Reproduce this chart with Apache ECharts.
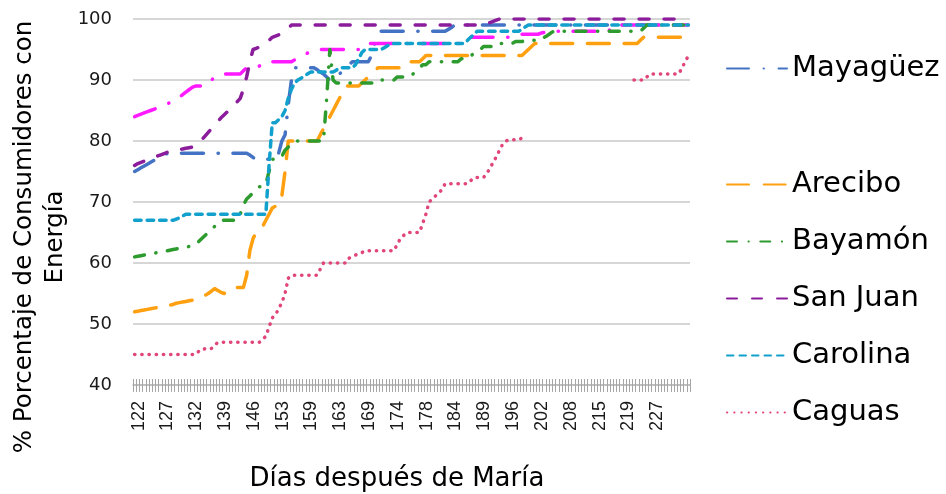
<!DOCTYPE html>
<html>
<head>
<meta charset="utf-8">
<script src="https://cdn.jsdelivr.net/npm/echarts@6/dist/echarts.min.js"></script>
<style>
html, body { margin: 0; padding: 0; background: #fff; }
#main { width: 946px; height: 494px; }
</style>
</head>
<body>
<div id="main"></div>
<script>
// dias visibles en el eje X (una etiqueta cada 9 mediciones)
var tickDays = [122, 127, 132, 139, 146, 153, 159, 163, 169, 174, 178, 184, 189, 196, 202, 208, 215, 219, 227];
var pointCount = 174;
var labelStep = 9;

var mayaguez = [
    75, 75.3, 75.6, 75.9, 76.2, 76.5, 76.8, 77.1, 77.4, 77.7,
    77.9, 78, 78, 78, 78, 78, 78, 78, 78, 78,
    78, 78, 78, 78, 78, 78, 78, 78, 78, 78,
    78, 78, 78, 78, 78, 78, 77.7, 77.3, 77, 77,
    77, 77, 77, 77, 77, 78, 80, 81, 86, 90,
    92, 92, 92, 92, 92, 92, 92, 91.7, 91.3, 91,
    90.5, 90, 90, 90.5, 91, 91.5, 92, 92.5, 93, 93,
    93, 93, 93, 93, 94, 96, 97.5, 98, 98, 98,
    98, 98, 98, 98, 98, 98, 98, 98, 98, 98,
    98, 98, 98, 98, 98, 98, 98, 98, 98.3, 98.6,
    99, 99, 99, 99, 99, 99, 99, 99, 99, 99,
    99, 99, 99, 99, 99, 99, 99, 99, 99, 99,
    99, 99, 99, 99, 99, 99, 99, 99, 99, 99,
    99, 99, 99, 99, 99, 99, 99, 99, 99, 99,
    99, 99, 99, 99, 99, 99, 99, 99, 99, 99,
    99, 99, 99, 99, 99, 99, 99, 99, 99, 99,
    99, 99, 99, 99, 99, 99, 99, 99, 99, 99,
    99, 99, 99, 99
];

// serie magenta, sin nombre visible en la leyenda
var sinNombre = [
    84, 84.2, 84.4, 84.6, 84.8, 85, 85.2, 85.4, 85.6, 85.8,
    86, 86.3, 86.6, 86.9, 87.2, 87.6, 88, 88.4, 88.8, 89,
    89, 89, 89, 89.5, 90, 90.4, 90.8, 91, 91, 91,
    91, 91, 91, 91, 91.5, 92, 92, 92, 92, 92.3,
    92.6, 93, 93, 93, 93, 93, 93, 93, 93, 93,
    93.3, 93.6, 94, 94.2, 94.4, 94.6, 94.8, 95, 95, 95,
    95, 95, 95, 95, 95, 95, 95, 95, 95, 95,
    95, 95.5, 96, 96, 96, 96, 96, 96, 96, 96,
    96, 96, 96, 96, 96, 96, 96, 96, 96, 96,
    96, 96, 96, 96, 96, 96, 96, 96, 96, 96,
    96, 96, 96, 96, 96.5, 97, 97, 97, 97, 97,
    97, 97, 97, 97, 97, 97, 97, 97, 97, 97.2,
    97.4, 97.5, 97.5, 97.5, 97.5, 97.5, 97.5, 97.7, 97.8, 97.8,
    98, 98, 98, 98, 98, 98, 98, 98, 98, 98,
    98, 98, 98, 98, 98, 98, 98, 98, 98, 98.5,
    99, 99, 99, 99, 99, 99, 99, 99, 99, 99,
    99, 99, 99, 99, 99, 99, 99, 99, 99, 99,
    99, 99, 99, 99
];

var arecibo = [
    52, 52.1, 52.2, 52.3, 52.4, 52.5, 52.6, 52.7, 52.8, 52.9,
    53, 53.1, 53.2, 53.4, 53.5, 53.6, 53.7, 53.8, 53.9, 54,
    54.2, 54.4, 54.7, 55, 55.4, 55.8, 55.5, 55.2, 55, 55.3,
    55.6, 56, 56, 56, 56, 58, 62, 64, 65, 65.5,
    66, 67, 68, 69, 69.3, 69.5, 71, 75, 80, 80,
    80, 80, 80, 80, 80, 80, 80, 80, 81, 82,
    83, 84, 85, 86, 87, 88, 89, 89, 89, 89,
    89, 89.5, 90, 90.5, 91, 91.5, 92, 92, 92, 92,
    92, 92, 92, 92, 92, 92.5, 93, 93, 93, 93,
    93.5, 94, 94, 94, 94, 94, 94, 94, 94, 94,
    94, 94, 94, 94, 94, 94, 94, 94, 94, 94,
    94, 94, 94, 94, 94, 94, 94, 94, 94, 94,
    94, 94, 94.5, 95, 95.5, 96, 96, 96, 96, 96,
    96, 96, 96, 96, 96, 96, 96, 96, 96, 96,
    96, 96, 96, 96, 96, 96, 96, 96, 96, 96,
    96, 96, 96, 96, 96, 96, 96, 96, 96.5, 97,
    97, 97, 97, 97, 97, 97, 97, 97, 97, 97,
    97, 97, 97, 97
];

var bayamon = [
    61, 61.1, 61.2, 61.3, 61.4, 61.5, 61.6, 61.7, 61.8, 61.9,
    62, 62.1, 62.2, 62.3, 62.4, 62.5, 62.6, 62.7, 62.8, 63,
    63.5, 64, 64.5, 65, 65.5, 66, 66.5, 67, 67, 67,
    67, 67, 67, 68, 69.5, 70.5, 71, 71.5, 72, 72.5,
    72.5, 73, 75, 77, 77, 77, 77.5, 78.5, 79, 79.5,
    80, 80, 80, 80, 80, 80, 80, 80, 80, 80,
    87, 95, 90, 89.5, 89.5, 89.5, 89.5, 89.5, 89.5, 89.5,
    89.5, 89.5, 89.5, 89.5, 89.5, 89.5, 90, 90, 90, 90,
    90, 90, 90.5, 90.5, 90.5, 90.5, 90.5, 91, 91.5, 92,
    92.5, 92.5, 93, 93, 93, 93, 93, 93, 93, 93,
    93, 93, 93.5, 93.5, 93.5, 94, 94.3, 94.6, 95, 95.5,
    95.5, 95.5, 95.5, 96, 96, 96, 96, 96, 96, 96.3,
    96.3, 96.3, 96.5, 96.5, 96.5, 96.5, 96.5, 97, 97, 97.3,
    97.7, 98, 98, 98, 98, 98, 98, 98, 98, 98,
    98, 98, 98, 98, 98, 98, 98, 98, 98, 98,
    98, 98, 98, 98, 98, 98, 98, 98, 98, 98.5,
    99, 99, 99, 99, 99, 99, 99, 99, 99, 99,
    99, 99, 99, 99
];

var sanJuan = [
    76, 76.3, 76.5, 76.7, 76.9, 77.1, 77.3, 77.5, 77.7, 77.9,
    78.1, 78.3, 78.4, 78.5, 78.6, 78.7, 78.8, 78.9, 79, 79.3,
    79.7, 80.2, 80.8, 81.4, 82, 82.6, 83.2, 83.8, 84.3, 84.8,
    85.3, 85.8, 86.4, 87, 88.5, 90.5, 93, 95, 95.2, 95.4,
    95.6, 96, 96.5, 97, 97.2, 97.4, 97.6, 98, 98.5, 99,
    99, 99, 99, 99, 99, 99, 99, 99, 99, 99,
    99, 99, 99, 99, 99, 99, 99, 99, 99, 99,
    99, 99, 99, 99, 99, 99, 99, 99, 99, 99,
    99, 99, 99, 99, 99, 99, 99, 99, 99, 99,
    99, 99, 99, 99, 99, 99, 99, 99, 99, 99,
    99, 99, 99, 99, 99, 99, 99, 99, 99, 99,
    99.2, 99.4, 99.6, 99.8, 100, 100, 100, 100, 100, 100,
    100, 100, 100, 100, 100, 100, 100, 100, 100, 100,
    100, 100, 100, 100, 100, 100, 100, 100, 100, 100,
    100, 100, 100, 100, 100, 100, 100, 100, 100, 100,
    100, 100, 100, 100, 100, 100, 100, 100, 100, 100,
    100, 100, 100, 100, 100, 100, 100, 100, 100, 100,
    100, 100, 100, 100
];

var carolina = [
    67, 67, 67, 67, 67, 67, 67, 67, 67, 67,
    67, 67, 67, 67.2, 67.4, 67.7, 68, 68, 68, 68,
    68, 68, 68, 68, 68, 68, 68, 68, 68, 68,
    68, 68, 68, 68, 68, 68, 68, 68, 68, 68,
    68, 68, 76, 83, 83, 83.5, 84, 85, 87, 88.5,
    89.5, 90, 90.3, 90.6, 91, 91.3, 91.3, 91.3, 91.3, 91.3,
    91.3, 91.3, 91.3, 91.6, 92, 92, 92, 92, 92, 92.5,
    93.5, 94.5, 95, 95, 95, 95, 95, 95, 95.3, 95.6,
    95.9, 96, 96, 96, 96, 96, 96, 96, 96, 96,
    96, 96, 96, 96, 96, 96, 96, 96, 96, 96,
    96, 96, 96, 96, 96.5, 97, 97.5, 98, 98, 98,
    98, 98, 98, 98, 98, 98, 98, 98, 98, 98,
    98, 98.3, 98.7, 99, 99, 99, 99, 99, 99, 99,
    99, 99, 99, 99, 99, 99, 99, 99, 99, 99,
    99, 99, 99, 99, 99, 99, 99, 99, 99, 99,
    99, 99, 99, 99, 99, 99, 99, 99, 99, 99,
    99, 99, 99, 99, 99, 99, 99, 99, 99, 99,
    99, 99, 99, 99
];

var caguas = [
    45, 45, 45, 45, 45, 45, 45, 45, 45, 45,
    45, 45, 45, 45, 45, 45, 45, 45, 45, 45,
    45.5, 45.5, 46, 46, 46, 46.5, 47, 47, 47, 47,
    47, 47, 47, 47, 47, 47, 47, 47, 47, 47,
    47.5, 48, 49.5, 51, 51.5, 52.5, 53.5, 55, 57.5, 58,
    58, 58, 58, 58, 58, 58, 58, 58, 59, 60,
    60, 60, 60, 60, 60, 60, 60, 60.8, 61, 61.3,
    61.5, 61.7, 62, 62, 62, 62, 62, 62, 62, 62,
    62, 62, 63, 64, 64.5, 65, 65, 65, 65, 65,
    66.5, 68, 70, 70.5, 71, 71.5, 72, 73, 73, 73,
    73, 73, 73, 73, 73, 73.5, 74, 74, 74, 74,
    74.7, 75.5, 76.5, 77.4, 78.5, 79.5, 80, 80.2, 80.2, 80.2,
    80.2, 80.5, null, null, null, null, null, null, null, null,
    null, null, null, null, null, null, null, null, null, null,
    null, null, null, null, null, null, null, null, null, null,
    null, null, null, null, null, null, 90, 90, 90, 90,
    90.5, 91, 91, 91, 91, 91, 91, 91, 91, 91,
    91, 92, 93, 94
];

var legendTop = ['Mayagüez'];
var legendRest = ['Arecibo', 'Bayamón', 'San Juan', 'Carolina', 'Caguas'];

var categories = [];
for (var i = 0; i < pointCount; i++) {
    categories.push(String(i));
}

var font = 'DejaVu Sans';

function lineSeries(name, data, color, dash) {
    return {
        name: name,
        type: 'line',
        data: data,
        symbol: 'none',
        connectNulls: false,
        animation: false,
        lineStyle: {
            color: color,
            width: 3.5,
            type: dash,
            cap: 'round',
            join: 'round'
        },
        itemStyle: { color: color }
    };
}

function legendBlock(names, top) {
    return {
        data: names,
        orient: 'vertical',
        left: 726,
        top: top,
        padding: 0,
        itemWidth: 60,
        itemHeight: 14,
        itemGap: 28,
        itemStyle: { opacity: 0 },
        textStyle: { fontFamily: font, fontSize: 29, color: '#000' }
    };
}

var myChart = echarts.init(document.getElementById('main'));

var option = {
    backgroundColor: '#ffffff',
    animation: false,
    grid: {
        left: 133,
        right: 256,
        top: 19,
        bottom: 109
    },
    legend: [
        legendBlock(legendTop, 54),
        legendBlock(legendRest, 170)
    ],
    xAxis: [
        {
            type: 'category',
            data: categories,
            boundaryGap: true,
            axisLine: { show: true, lineStyle: { color: '#b8b8b8', width: 1.5 } },
            axisTick: {
                show: true,
                interval: 0,
                length: 7,
                lineStyle: { color: '#a6a6a6', width: 1 }
            },
            axisLabel: {
                interval: labelStep - 1,
                rotate: 90,
                margin: 16,
                fontFamily: 'Liberation Sans',
                fontSize: 18,
                color: '#1a1a1a',
                formatter: function (value, idx) {
                    var k = idx / labelStep;
                    return (idx % labelStep === 0 && k < tickDays.length) ? '{d|' + tickDays[k] + '}' : '';
                },
                rich: {
                    d: {
                        fontFamily: 'Liberation Sans',
                        fontSize: 18,
                        color: '#1a1a1a',
                        padding: [8, 0, 0, 0]
                    }
                }
            },
            splitLine: { show: false }
        },
        {
            // marcas hacia dentro, para que crucen la linea del eje
            type: 'category',
            data: categories,
            position: 'bottom',
            boundaryGap: true,
            axisLine: { show: false },
            axisTick: {
                show: true,
                inside: true,
                interval: 0,
                length: 6,
                lineStyle: { color: '#a6a6a6', width: 1 }
            },
            axisLabel: { show: false },
            splitLine: { show: false }
        }
    ],
    yAxis: {
        type: 'value',
        min: 40,
        max: 100,
        interval: 10,
        axisLine: { show: false },
        axisTick: { show: false },
        axisLabel: {
            margin: 21,
            fontFamily: font,
            fontSize: 18,
            color: '#1a1a1a'
        },
        splitLine: { lineStyle: { color: '#d6d6d6', width: 2 } }
    },
    graphic: [
        {
            type: 'text',
            x: 40,
            y: 237,
            rotation: Math.PI / 2,
            style: {
                text: '% Porcentaje de Consumidores con\nEnergía',
                fontFamily: font,
                fontSize: 24.5,
                lineHeight: 31,
                fill: '#000',
                align: 'center',
                verticalAlign: 'middle'
            }
        },
        {
            type: 'text',
            x: 397,
            y: 479,
            style: {
                text: 'Días después de María',
                fontFamily: font,
                fontSize: 26,
                fill: '#000',
                align: 'center',
                verticalAlign: 'middle'
            }
        }
    ],
    series: [
        lineSeries('Mayagüez', mayaguez, '#4472C4', [22, 14.6, 0.3, 14.6]),
        lineSeries('Serie sin nombre', sinNombre, '#FF1AFF', [22, 14.6, 0.3, 14.6]),
        lineSeries('Arecibo', arecibo, '#FFA010', [22, 14.7]),
        lineSeries('Bayamón', bayamon, '#2E9B2E', [10, 11.5, 0.3, 11.5]),
        lineSeries('San Juan', sanJuan, '#8B1C9B', [10, 15]),
        lineSeries('Carolina', carolina, '#12A0CC', [6.5, 6]),
        lineSeries('Caguas', caguas, '#E0457B', [0.3, 6.9])
    ]
};

myChart.setOption(option);
</script>
</body>
</html>
